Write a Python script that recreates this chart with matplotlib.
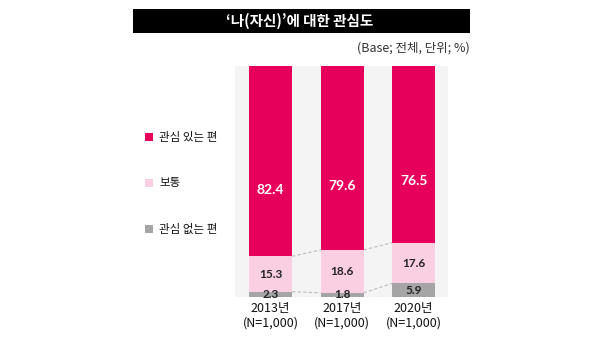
import matplotlib
matplotlib.use("Agg")
import matplotlib.pyplot as plt
import numpy as np

years = ["2013년\n(N=1,000)", "2017년\n(N=1,000)", "2020년\n(N=1,000)"]
series_names = ["관심 있는 편", "보통", "관심 없는 편"]
interested = [82.4, 79.6, 76.5]
normal = [15.3, 18.6, 17.6]
not_interested = [2.3, 1.8, 5.9]
title = "‘나(자신)’에 대한 관심도"
subtitle = "(Base; 전체, 단위; %)"

c_int = "#E6005C"
c_norm = "#FBCFE2"
c_not = "#A5A5A5"
panel_bg = "#F4F4F4"

KR = ["Noto Sans CJK KR", "DejaVu Sans"]
NUM = ["Lato", "DejaVu Sans"]

fig = plt.figure(figsize=(6, 3.57), dpi=100)
fig.patch.set_facecolor("white")

# Title bar
fig.patches.append(plt.Rectangle((133/600, 1-33/357), (470-133)/600, 24/357,
                                 transform=fig.transFigure, facecolor="black",
                                 edgecolor="none", zorder=0))
fig.text(300/600, 1-21/357, title, color="white", fontsize=10.5, fontweight="heavy",
         ha="center", va="center", family=KR)
fig.text(470/600, 1-48/357, subtitle, color="#333333", fontsize=9,
         ha="right", va="center", family=KR)

# Main axes (panel)
ax = fig.add_axes([235/600, 1-297/357, 213/600, 231/357])
ax.set_facecolor(panel_bg)
x = np.arange(len(years))
w = 0.60
ax.set_xlim(-0.497, 2.48)
ax.set_ylim(0, 100)

b0 = np.zeros(3)
b1 = np.array(not_interested)
b2 = b1 + np.array(normal)
ax.bar(x, not_interested, w, bottom=b0, color=c_not, zorder=3)
ax.bar(x, normal, w, bottom=b1, color=c_norm, zorder=3)
ax.bar(x, interested, w, bottom=b2, color=c_int, zorder=3)

# connectors
for i in range(len(x) - 1):
    for lv in (b0, b1, b2):
        ax.plot([x[i] + w/2, x[i+1] - w/2], [lv[i], lv[i+1]], ls=(0, (3, 2)),
                color="#BBBBBB", lw=0.8, zorder=2)

for i in range(len(x)):
    ax.text(x[i], b2[i] + interested[i]*0.35, f"{interested[i]:.1f}", ha="center",
            va="center", color="white", fontsize=10, fontweight="bold", family=NUM, zorder=4)
    ax.text(x[i], b1[i] + normal[i]/2, f"{normal[i]:.1f}", ha="center",
            va="center", color="#222222", fontsize=8.5, fontweight="bold", family=NUM, zorder=4)
    ax.text(x[i], b0[i] + not_interested[i]/2, f"{not_interested[i]:.1f}", ha="center",
            va="center", color="#222222", fontsize=8.5, fontweight="bold", family=NUM, zorder=4)

ax.set_xticks(x)
ax.set_xticklabels(years, fontsize=9, family=KR, color="#111111", linespacing=1.15)
ax.tick_params(axis="x", length=0, pad=3.5)
ax.set_yticks([])
for s in ax.spines.values():
    s.set_visible(False)

# legend
leg_colors = [c_int, c_norm, c_not]
leg_y = [137, 183, 229]
for name, col, yy in zip(series_names, leg_colors, leg_y):
    fig.patches.append(plt.Rectangle((145/600, 1-(yy+4)/357), 8/600, 8/357,
                                     transform=fig.transFigure, facecolor=col,
                                     edgecolor="none"))
    fig.text(159/600, 1-yy/357, name, fontsize=8.3, ha="left", va="center",
             color="#111111", family=KR, fontweight="medium")

fig.savefig("out.png", dpi=100)
